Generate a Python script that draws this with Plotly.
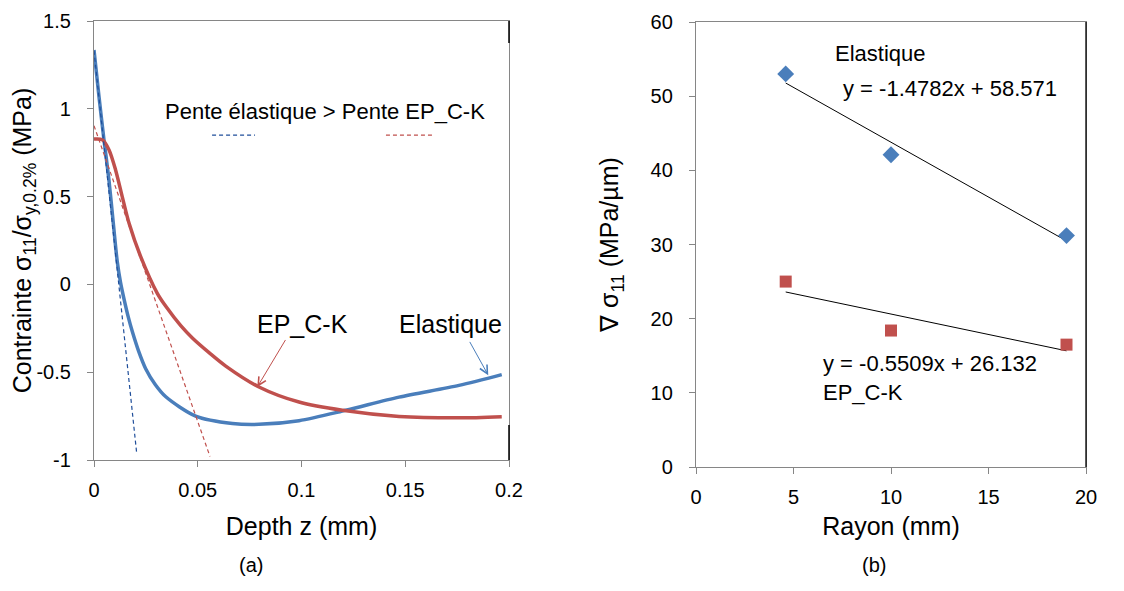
import plotly.graph_objects as go

# (a) stress profiles vs depth
depth_el = [0, 0.0024, 0.0048, 0.0072, 0.0093, 0.0112, 0.0128, 0.0145, 0.0165, 0.0185, 0.0215, 0.0249,
            0.0295, 0.0346, 0.049, 0.0667, 0.0795, 0.0988, 0.1213, 0.147, 0.1759, 0.1965]
stress_el = [1.335, 1.07, 0.824, 0.595, 0.348, 0.13, 0.01, -0.085, -0.185, -0.27, -0.38, -0.48,
             -0.57, -0.64, -0.75, -0.792, -0.797, -0.776, -0.717, -0.642, -0.575, -0.514]

depth_ep = [0, 0.004, 0.0072, 0.0104, 0.0136, 0.0169, 0.0225, 0.0305, 0.0346, 0.0418, 0.0474, 0.0556,
            0.0635, 0.0795, 0.0988, 0.1197, 0.147, 0.176, 0.1965]
stress_ep = [0.828, 0.824, 0.767, 0.652, 0.50, 0.348, 0.158, -0.051, -0.125, -0.235, -0.305, -0.39,
             -0.465, -0.584, -0.67, -0.717, -0.752, -0.76, -0.753]

# tangent lines at the surface
tan_el_x = [0, 0.0206]
tan_el_y = [1.33, -0.965]
tan_ep_x = [0, 0.0559]
tan_ep_y = [0.904, -0.98]

y_a_ticks = [-1, -0.5, 0, 0.5, 1, 1.5]
y_a_text = ["-1", "-0.5", "0", "0.5", "1", "1.5"]
x_a_ticks = [0, 0.05, 0.1, 0.15, 0.2]

# (b) gradient vs radius
rayon = [4.6, 10, 19]
grad_el = [53.0, 42.1, 31.2]
grad_ep = [25.0, 18.4, 16.5]
fit_el = (-1.4782, 58.571)
fit_ep = (-0.5509, 26.132)

BLUE = "#4A7EBB"
RED = "#C0504D"
FONT = "Liberation Sans, Arial, sans-serif"
W, H, OFF = 1124, 591, 8  # page has an 8px body margin


def fx(px):
    return (px - OFF) / W


def fy(py):
    return 1 - (py - OFF) / H


fig = go.Figure()

fig.add_trace(go.Scatter(x=depth_el, y=stress_el, mode="lines", line=dict(color=BLUE, width=3.5, shape="spline", smoothing=0.8),
                         xaxis="x", yaxis="y", showlegend=False))
fig.add_trace(go.Scatter(x=depth_ep, y=stress_ep, mode="lines", line=dict(color=RED, width=3.5, shape="spline", smoothing=0.8),
                         xaxis="x", yaxis="y", showlegend=False))
fig.add_trace(go.Scatter(x=tan_el_x, y=tan_el_y, mode="lines", line=dict(color="#1F4E9A", width=1.2, dash="4px,3px"),
                         xaxis="x", yaxis="y", showlegend=False))
fig.add_trace(go.Scatter(x=tan_ep_x, y=tan_ep_y, mode="lines", line=dict(color=RED, width=1.2, dash="4px,3px"),
                         xaxis="x", yaxis="y", showlegend=False))

# trendlines
for (a, b) in [fit_el, fit_ep]:
    xs = [min(rayon), max(rayon)]
    fig.add_trace(go.Scatter(x=xs, y=[a * v + b for v in xs], mode="lines", line=dict(color="black", width=1),
                             xaxis="x2", yaxis="y2", showlegend=False))
fig.add_trace(go.Scatter(x=rayon, y=grad_el, mode="markers", marker=dict(symbol="diamond", size=13, color=BLUE),
                         xaxis="x2", yaxis="y2", showlegend=False))
fig.add_trace(go.Scatter(x=rayon, y=grad_ep, mode="markers", marker=dict(symbol="square", size=12, color=RED),
                         xaxis="x2", yaxis="y2", showlegend=False))

axis_common = dict(showgrid=False, zeroline=False, showline=True, linecolor="#868686", linewidth=1.3,
                   ticks="outside", ticklen=6, tickcolor="#868686", mirror=True, automargin=False,
                   tickfont=dict(size=20, color="black", family=FONT))

fig.update_layout(
    width=W, height=H,
    margin=dict(l=0, r=0, t=0, b=0),
    paper_bgcolor="white", plot_bgcolor="white",
    font=dict(family=FONT, color="black"),
    xaxis=dict(domain=[fx(94), fx(509)], range=[0, 0.2], tickvals=x_a_ticks, anchor="y",
               title=dict(text="Depth z (mm)", font=dict(size=25), standoff=17), ticklabelstandoff=6, **axis_common),
    yaxis=dict(domain=[fy(460), fy(21)], range=[-1, 1.5], tickvals=y_a_ticks, ticktext=y_a_text, anchor="x",
               title=dict(text="Contrainte σ<sub>11</sub>/σ<sub>y,0.2%</sub> (MPa)", font=dict(size=25), standoff=0),
               ticklabelstandoff=12, **axis_common),
    xaxis2=dict(domain=[fx(696), fx(1086)], range=[0, 20], dtick=5, anchor="y2",
                title=dict(text="Rayon (mm)", font=dict(size=25), standoff=10), ticklabelstandoff=6, **axis_common),
    yaxis2=dict(domain=[fy(467), fy(22)], range=[0, 60], dtick=10, anchor="x2",
                title=dict(text="∇ σ<sub>11</sub> (MPa/µm)", font=dict(size=25), standoff=24),
                ticklabelstandoff=12, **axis_common),
)

# right border of (b) is black; (a) has short black marks at the right corners
fig.add_shape(type="line", xref="x2 domain", yref="y2 domain", x0=1, x1=1, y0=0, y1=1, line=dict(color="black", width=1.3))
fig.add_shape(type="line", xref="x domain", yref="y domain", x0=1, x1=1, y0=0.95, y1=1, line=dict(color="black", width=1.5))
fig.add_shape(type="line", xref="x domain", yref="y domain", x0=1, x1=1, y0=0, y1=0.08, line=dict(color="black", width=1.5))

# legend dashes under the slope note
fig.add_shape(type="line", xref="x", yref="y", x0=0.0569, x1=0.0776, y0=0.85, y1=0.85, line=dict(color="#1F4E9A", width=1.2, dash="4px,3px"))
fig.add_shape(type="line", xref="x", yref="y", x0=0.1407, x1=0.1629, y0=0.85, y1=0.85, line=dict(color=RED, width=1.2, dash="4px,3px"))

ann = [
    dict(x=0.1113, y=0.987, xref="x", yref="y", text="Pente élastique > Pente EP_C-K", showarrow=False, font=dict(size=22)),
    dict(x=0.1007, y=-0.223, xref="x", yref="y", text="EP_C-K", showarrow=False, font=dict(size=25)),
    dict(x=0.1716, y=-0.223, xref="x", yref="y", text="Elastique", showarrow=False, font=dict(size=25)),
    dict(x=0.0787, y=-0.584, ax=0.0927, ay=-0.308, xref="x", yref="y", axref="x", ayref="y", text="", showarrow=True,
         arrowhead=5, arrowsize=1.6, arrowwidth=1, arrowcolor=RED),
    dict(x=0.19, y=-0.517, ax=0.1807, ay=-0.319, xref="x", yref="y", axref="x", ayref="y", text="", showarrow=True,
         arrowhead=5, arrowsize=1.6, arrowwidth=1, arrowcolor=BLUE),
    dict(x=9.44, y=55.8, xref="x2", yref="y2", text="Elastique", showarrow=False, font=dict(size=22)),
    dict(x=13.03, y=51.1, xref="x2", yref="y2", text="y = -1.4782x + 58.571", showarrow=False, font=dict(size=22)),
    dict(x=6.4, y=12.0, xref="x2", yref="y2", xanchor="left", align="left",
         text="y = -0.5509x + 26.132<br>EP_C-K", showarrow=False, font=dict(size=22)),
    dict(x=fx(237), y=fy(578), xref="paper", yref="paper", text="(a)", showarrow=False, font=dict(size=20)),
    dict(x=fx(888), y=fy(578), xref="paper", yref="paper", text="(b)", showarrow=False, font=dict(size=20)),
]
fig.update_layout(annotations=ann)

fig.write_html("out.html")
